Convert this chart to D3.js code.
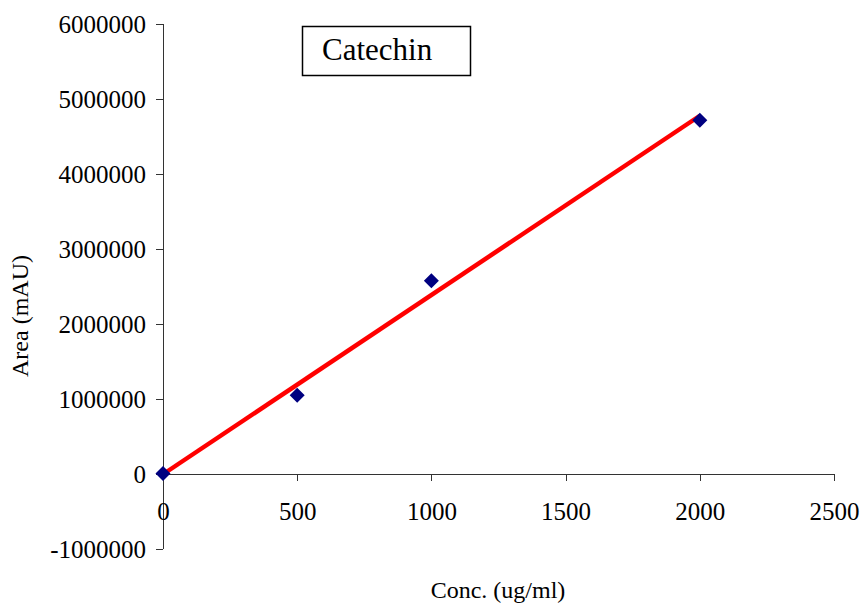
<!DOCTYPE html>
<html>
<head>
<meta charset="utf-8">
<title>Catechin calibration</title>
<script src="https://cdn.jsdelivr.net/npm/d3@7"></script>
<style>
body, html {
  margin: 0;
  background: #fff;
}
svg text {
  font-family: "Liberation Serif", "Times New Roman", serif;
  fill: #000;
}
.axis path, .axis line {
  stroke: #333;
  stroke-width: 1px;
  shape-rendering: crispEdges;
}
</style>
</head>
<body>
<script>
// data
var seriesName = "Catechin";
var conc = [0, 500, 1000, 2000];              // ug/ml
var area = [0, 1045000, 2570000, 4710000];    // mAU
var xTicks = [0, 500, 1000, 1500, 2000, 2500];
var yTicks = [-1000000, 0, 1000000, 2000000, 3000000, 4000000, 5000000, 6000000];

var W = 866, H = 609;

var svg = d3.select("body").append("svg")
  .attr("width", W)
  .attr("height", H);

var x = d3.scaleLinear().domain([0, 2500]).range([163, 834]);
var y = d3.scaleLinear().domain([-1000000, 6000000]).range([548.5, 23.5]);

// plain hyphen for negatives, like the original
var fmt = function(d) { return String(d); };

// y axis (left edge)
var yAxis = svg.append("g")
  .attr("class", "axis")
  .attr("transform", "translate(" + x(0) + ",0)")
  .call(d3.axisLeft(y).tickValues(yTicks).tickSize(7).tickSizeOuter(0).tickPadding(10)
    .tickFormat(fmt));
yAxis.selectAll("text").style("font-size", "25px").attr("dy", "0.34em");

// x axis crosses at y = 0
var xAxis = svg.append("g")
  .attr("class", "axis")
  .attr("transform", "translate(0," + y(0) + ")")
  .call(d3.axisBottom(x).tickValues(xTicks).tickSize(7).tickSizeOuter(0).tickPadding(22)
    .tickFormat(fmt));
xAxis.selectAll("text").style("font-size", "25px");

// axis titles
svg.append("text")
  .attr("x", 498)
  .attr("y", 598)
  .attr("text-anchor", "middle")
  .style("font-size", "24px")
  .text("Conc. (ug/ml)");

svg.append("text")
  .attr("transform", "translate(28,316) rotate(-90)")
  .attr("text-anchor", "middle")
  .style("font-size", "24px")
  .text("Area (mAU)");

// linear trend line, least squares
var mx = d3.mean(conc), my = d3.mean(area);
var sxy = d3.sum(conc, function(c, i) { return (c - mx) * (area[i] - my); });
var sxx = d3.sum(conc, function(c) { return (c - mx) * (c - mx); });
var slope = sxy / sxx;
var icpt = my - slope * mx;
var xMin = d3.min(conc), xMax = d3.max(conc);

svg.append("line")
  .attr("x1", x(xMin)).attr("y1", y(icpt + slope * xMin))
  .attr("x2", x(xMax)).attr("y2", y(icpt + slope * xMax))
  .attr("stroke", "#ff0000")
  .attr("stroke-width", 4.5);

// diamond markers
var r = 7.5;
svg.append("g").selectAll("path")
  .data(conc)
  .enter().append("path")
  .attr("d", function(c, i) {
    var cx = x(c), cy = y(area[i]);
    return "M" + cx + "," + (cy - r) + "L" + (cx + r) + "," + cy +
           "L" + cx + "," + (cy + r) + "L" + (cx - r) + "," + cy + "Z";
  })
  .attr("fill", "#000080");

// legend box
var lg = svg.append("g");
lg.append("rect")
  .attr("x", 302.5).attr("y", 26.5)
  .attr("width", 168).attr("height", 49)
  .attr("fill", "#fff")
  .attr("stroke", "#000")
  .attr("stroke-width", 1.5);
lg.append("text")
  .attr("x", 322).attr("y", 60)
  .style("font-size", "31px")
  .text(seriesName);
</script>
</body>
</html>
